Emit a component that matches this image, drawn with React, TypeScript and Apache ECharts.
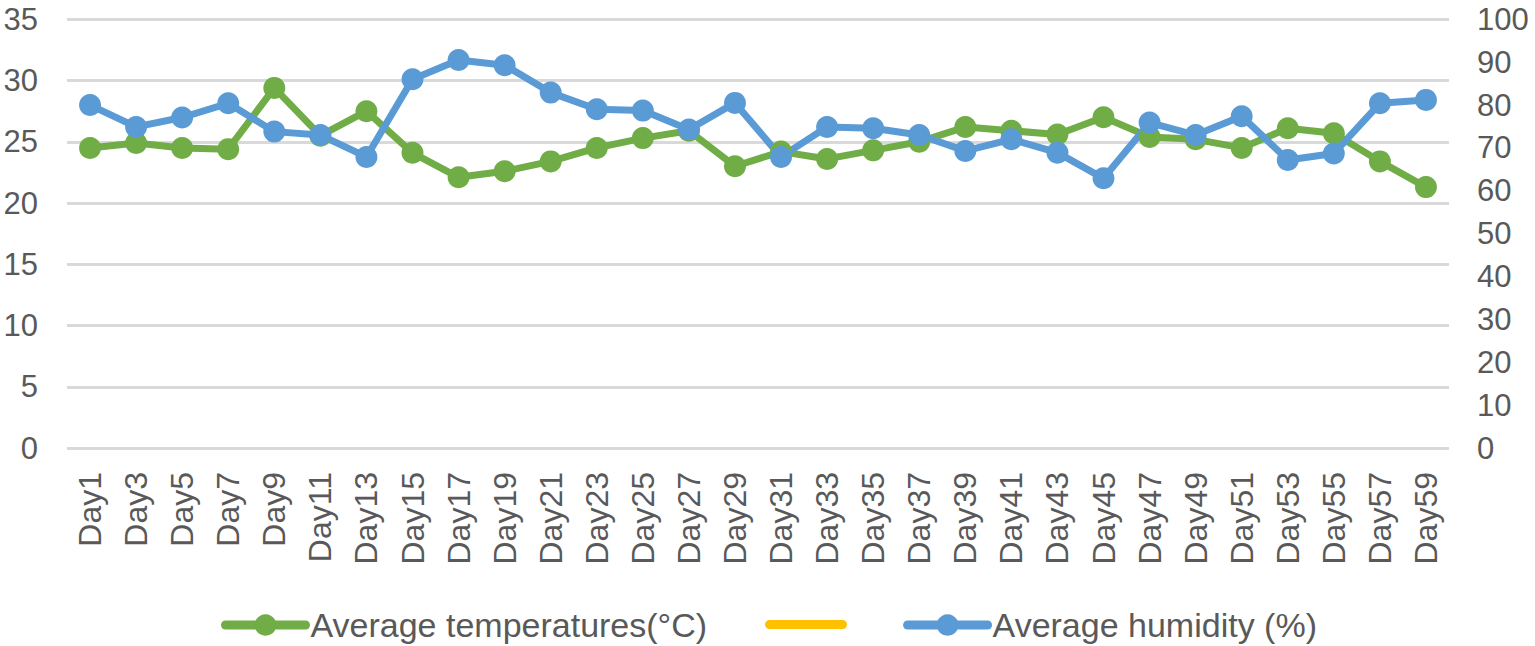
import React, { useEffect, useRef } from "react";
import * as echarts from "echarts";

const categories = [
  "Day1", "Day3", "Day5", "Day7", "Day9", "Day11", "Day13", "Day15", "Day17", "Day19",
  "Day21", "Day23", "Day25", "Day27", "Day29", "Day31", "Day33", "Day35", "Day37", "Day39",
  "Day41", "Day43", "Day45", "Day47", "Day49", "Day51", "Day53", "Day55", "Day57", "Day59",
];

const temperatures = [
  24.5, 24.9, 24.5, 24.4, 29.4, 25.5, 27.5, 24.1, 22.1, 22.6,
  23.4, 24.5, 25.3, 25.9, 23.0, 24.2, 23.6, 24.3, 25.0, 26.2,
  25.9, 25.6, 27.0, 25.4, 25.2, 24.5, 26.1, 25.7, 23.4, 21.3,
];

const humidity = [
  80, 74.9, 77.1, 80.4, 73.8, 73, 67.9, 86, 90.5, 89.3,
  82.9, 79, 78.7, 74.3, 80.5, 67.9, 74.9, 74.6, 73, 69.3,
  72, 68.9, 62.9, 75.9, 73, 77.4, 67.2, 68.7, 80.4, 81.2,
];

const emptySeries: number[] = [];

const TEMP_NAME = "Average temperatures(°C)";
const HUM_NAME = "Average humidity (%)";

const FONT = "'Liberation Sans', Arial, sans-serif";
const TEXT = "#595959";
const GREEN = "#70AD47";
const YELLOW = "#FFC000";
const BLUE = "#5B9BD5";

export default function App() {
  const ref = useRef<HTMLDivElement>(null);
  useEffect(() => {
    if (!ref.current) return;
    const chart = echarts.init(ref.current, undefined, { renderer: "svg" });
    chart.setOption({
      animation: false,
      textStyle: { fontFamily: FONT },
      grid: { left: 67, right: 86, top: 19.3, bottom: 198, containLabel: false },
      legend: {
        left: 216,
        top: 603,
        itemWidth: 80,
        itemHeight: 27,
        itemGap: 196,
        lineStyle: { width: 9, cap: "round" },
        data: [TEMP_NAME, HUM_NAME],
        textStyle: { fontSize: 34, color: TEXT, fontFamily: FONT },
      },
      graphic: [
        {
          type: "rect",
          left: 765,
          top: 620,
          shape: { width: 82, height: 9, r: 4.5 },
          style: { fill: YELLOW },
        },
      ],
      xAxis: {
        type: "category",
        data: categories,
        boundaryGap: true,
        axisLine: { show: false },
        axisTick: { show: false },
        axisLabel: {
          rotate: 90,
          fontSize: 32,
          color: TEXT,
          margin: 24,
          interval: 0,
          fontFamily: FONT,
        },
      },
      yAxis: [
        {
          type: "value",
          min: 0,
          max: 35,
          interval: 5,
          axisLine: { show: false },
          axisTick: { show: false },
          axisLabel: { fontSize: 31, color: TEXT, margin: 29, fontFamily: FONT },
          splitLine: { lineStyle: { color: "#D9D9D9", width: 3 } },
        },
        {
          type: "value",
          min: 0,
          max: 100,
          interval: 10,
          axisLine: { show: false },
          axisTick: { show: false },
          axisLabel: { fontSize: 31, color: TEXT, margin: 28, fontFamily: FONT },
          splitLine: { show: false },
        },
      ],
      series: [
        {
          name: TEMP_NAME,
          type: "line",
          yAxisIndex: 0,
          data: temperatures,
          symbol: "circle",
          symbolSize: 22,
          color: GREEN,
          lineStyle: { width: 7, color: GREEN, cap: "round" },
          itemStyle: { color: GREEN },
        },
        {
          type: "line",
          yAxisIndex: 0,
          data: emptySeries,
          symbol: "none",
          color: YELLOW,
          lineStyle: { width: 7, color: YELLOW },
        },
        {
          name: HUM_NAME,
          type: "line",
          yAxisIndex: 1,
          data: humidity,
          symbol: "circle",
          symbolSize: 22,
          color: BLUE,
          lineStyle: { width: 7, color: BLUE, cap: "round" },
          itemStyle: { color: BLUE },
        },
      ],
    });
    return () => chart.dispose();
  }, []);
  return (
    <div
      ref={ref}
      style={{ position: "absolute", left: 0, top: 0, width: 1535, height: 646 }}
    />
  );
}
